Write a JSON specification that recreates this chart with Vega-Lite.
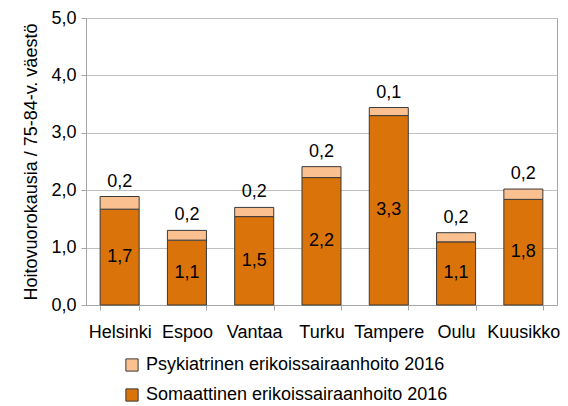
{
  "$schema": "https://vega.github.io/schema/vega-lite/v6.json",
  "width": 471,
  "height": 287,
  "autosize": {"type": "none"},
  "padding": {"left": 86, "top": 18, "right": 11, "bottom": 101},
  "config": {
    "locale": {"number": {"decimal": ",", "thousands": "\u00a0", "grouping": [3], "currency": ["", " €"]}},
    "font": "Liberation Sans",
    "view": {"stroke": "#a6a6a6", "strokeWidth": 1}
  },
  "data": {
    "values": [
      {"kunta": "Helsinki", "sarja": "Somaattinen erikoissairaanhoito 2016", "arvo": 1.67},
      {"kunta": "Helsinki", "sarja": "Psykiatrinen erikoissairaanhoito 2016", "arvo": 0.22},
      {"kunta": "Espoo", "sarja": "Somaattinen erikoissairaanhoito 2016", "arvo": 1.13},
      {"kunta": "Espoo", "sarja": "Psykiatrinen erikoissairaanhoito 2016", "arvo": 0.17},
      {"kunta": "Vantaa", "sarja": "Somaattinen erikoissairaanhoito 2016", "arvo": 1.54},
      {"kunta": "Vantaa", "sarja": "Psykiatrinen erikoissairaanhoito 2016", "arvo": 0.16},
      {"kunta": "Turku", "sarja": "Somaattinen erikoissairaanhoito 2016", "arvo": 2.22},
      {"kunta": "Turku", "sarja": "Psykiatrinen erikoissairaanhoito 2016", "arvo": 0.19},
      {"kunta": "Tampere", "sarja": "Somaattinen erikoissairaanhoito 2016", "arvo": 3.3},
      {"kunta": "Tampere", "sarja": "Psykiatrinen erikoissairaanhoito 2016", "arvo": 0.14},
      {"kunta": "Oulu", "sarja": "Somaattinen erikoissairaanhoito 2016", "arvo": 1.1},
      {"kunta": "Oulu", "sarja": "Psykiatrinen erikoissairaanhoito 2016", "arvo": 0.16},
      {"kunta": "Kuusikko", "sarja": "Somaattinen erikoissairaanhoito 2016", "arvo": 1.84},
      {"kunta": "Kuusikko", "sarja": "Psykiatrinen erikoissairaanhoito 2016", "arvo": 0.18}
    ]
  },
  "layer": [
    {
      "mark": {"type": "bar", "stroke": "#3a3a3a", "strokeWidth": 1},
      "encoding": {
        "x": {
          "field": "kunta", "type": "nominal", "sort": null,
          "scale": {"paddingInner": 0.42, "paddingOuter": 0.21},
          "axis": {
            "title": null, "labelAngle": 0, "tickBand": "extent",
            "labelFontSize": 18, "labelColor": "#000000", "labelPadding": 13,
            "domainColor": "#a6a6a6", "tickColor": "#a6a6a6", "tickSize": 5
          }
        },
        "y": {
          "field": "arvo", "type": "quantitative", "stack": "zero",
          "scale": {"domain": [0, 5]},
          "axis": {
            "values": [0, 1, 2, 3, 4, 5], "format": ".1f",
            "title": "Hoitovuorokausia  / 75-84-v. väestö",
            "titleFontSize": 18, "titleFontWeight": "normal", "titleColor": "#000000", "titlePadding": 10,
            "labelFontSize": 18, "labelColor": "#000000", "labelPadding": 5,
            "domainColor": "#a6a6a6", "tickColor": "#a6a6a6", "tickSize": 5,
            "gridColor": "#c0c0c0", "grid": true
          }
        },
        "color": {
          "field": "sarja", "type": "nominal",
          "scale": {
            "domain": ["Psykiatrinen erikoissairaanhoito 2016", "Somaattinen erikoissairaanhoito 2016"],
            "range": ["#FAC090", "#D9730A"]
          },
          "legend": {
            "title": null, "orient": "none", "legendX": 37, "legendY": 338,
            "symbolType": "square", "symbolSize": 150, "symbolStrokeColor": "#3a3a3a", "symbolStrokeWidth": 1,
            "labelFontSize": 18, "labelColor": "#000000", "labelOffset": 5, "rowPadding": 12, "labelLimit": 400
          }
        },
        "order": {"field": "sarja", "sort": "descending"}
      }
    },
    {
      "mark": {"type": "text", "fontSize": 18, "dy": -15, "color": "#000000"},
      "encoding": {
        "x": {"field": "kunta", "type": "nominal", "sort": null},
        "y": {"field": "arvo", "type": "quantitative", "stack": "zero", "scale": {"domain": [0, 5]}, "axis": null},
        "detail": {"field": "sarja"},
        "order": {"field": "sarja", "sort": "descending"},
        "text": {"field": "arvo", "type": "quantitative", "format": ".1f"},
        "opacity": {
          "condition": {"test": "datum.sarja === 'Somaattinen erikoissairaanhoito 2016'", "value": 0},
          "value": 1
        }
      }
    },
    {
      "transform": [{"filter": "datum.sarja === 'Somaattinen erikoissairaanhoito 2016'"}],
      "mark": {"type": "text", "fontSize": 18, "baseline": "middle", "color": "#000000"},
      "encoding": {
        "x": {"field": "kunta", "type": "nominal", "sort": null},
        "y": {"field": "arvo", "type": "quantitative", "stack": null, "scale": {"domain": [0, 10]}, "axis": null},
        "text": {"field": "arvo", "type": "quantitative", "format": ".1f"}
      }
    }
  ],
  "resolve": {"scale": {"y": "independent"}}
}
